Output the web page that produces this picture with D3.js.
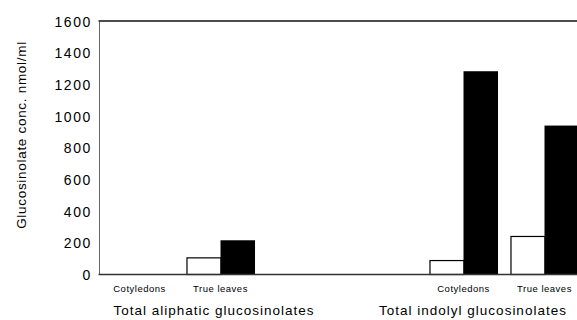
<!DOCTYPE html>
<html><head><meta charset="utf-8">
<script src="https://cdn.jsdelivr.net/npm/d3@7"></script>
<style>body{margin:0;background:#fff}svg{display:block}text{font-family:"Liberation Sans",Arial,sans-serif;fill:#000}</style>
</head><body>
<script>
const groups = ["Total aliphatic glucosinolates", "Total indolyl glucosinolates"];
const categories = ["Cotyledons", "True leaves", "Cotyledons", "True leaves"];
const categoryGroup = [0, 0, 1, 1];
const slots = ["a-cot", "a-tl", "gap1", "gap2", "i-cot", "i-tl"];
const categorySlot = ["a-cot", "a-tl", "i-cot", "i-tl"];
const whiteValues = [0, 105, 88, 240];
const blackValues = [0, 216, 1283, 940];
const yTicks = [0, 200, 400, 600, 800, 1000, 1200, 1400, 1600];
const yTitle = "Glucosinolate conc. nmol/ml";

const W = 577, H = 320;
const svg = d3.select("body").append("svg").attr("width", W).attr("height", H);
const x = d3.scaleBand().domain(slots).range([99, 585]).paddingInner(0.16).paddingOuter(0.08);
const y = d3.scaleLinear().domain([0, 1600]).range([274.5, 21]);
const inner = d3.scaleBand().domain(["white", "black"]).range([0, x.bandwidth()]);

// y axis
const yAxis = d3.axisLeft(y).tickValues(yTicks).tickFormat(d3.format("d")).tickSize(0).tickPadding(7);
const ga = svg.append("g").attr("transform", "translate(99,0)").call(yAxis);
ga.select(".domain").attr("stroke", "#666").attr("stroke-width", 1);
ga.selectAll("text").style("font-size", "14px").style("letter-spacing", "1.6px").attr("fill", "#000").attr("dy", "0.36em");

// frame line
svg.append("line").attr("x1", 98.5).attr("x2", W).attr("y1", 21).attr("y2", 21).attr("stroke", "#111").attr("stroke-width", 1.5);

// bars
const data = categories.map((c, i) => ({c, g: categoryGroup[i], slot: categorySlot[i], w: whiteValues[i], b: blackValues[i]}));
svg.selectAll("rect.w").data(data).join("rect").attr("class", "w")
  .attr("x", d => x(d.slot) + inner("white") + 0.5)
  .attr("width", inner.bandwidth())
  .attr("y", d => y(d.w))
  .attr("height", d => y(0) - y(d.w))
  .attr("fill", "#fff").attr("stroke", "#000").attr("stroke-width", 1.2);
svg.selectAll("rect.b").data(data).join("rect").attr("class", "b")
  .attr("x", d => x(d.slot) + inner("black"))
  .attr("width", inner.bandwidth() + 0.5)
  .attr("y", d => y(d.b))
  .attr("height", d => y(0) - y(d.b))
  .attr("fill", "#000");

// baseline
svg.append("line").attr("x1", 98.5).attr("x2", W).attr("y1", y(0)).attr("y2", y(0)).attr("stroke", "#333").attr("stroke-width", 1.3);

// category labels
svg.selectAll("text.cat").data(data).join("text").attr("class", "cat")
  .attr("x", d => x(d.slot) + x.bandwidth() / 2)
  .attr("y", 292)
  .attr("text-anchor", "middle").style("font-size", "9.5px").style("letter-spacing", "0.5px")
  .text(d => d.c);

// group labels: centred under each group's label span
const groupOffset = [34, -31];
const groupCenters = groups.map((g, gi) => {
  const xs = data.filter(d => d.g === gi).map(d => x(d.slot) + x.bandwidth() / 2);
  return d3.mean(xs) + groupOffset[gi];
});
svg.selectAll("text.grp").data(groups).join("text").attr("class", "grp")
  .attr("x", (d, i) => groupCenters[i])
  .attr("y", 315)
  .attr("text-anchor", "middle").style("font-size", "13.5px").style("letter-spacing", "1px")
  .text(d => d);

// y title
svg.append("text").attr("transform", "translate(26,135) rotate(-90)")
  .attr("text-anchor", "middle").style("font-size", "13.5px").style("letter-spacing", "0.7px").text(yTitle);
</script>
</body></html>
